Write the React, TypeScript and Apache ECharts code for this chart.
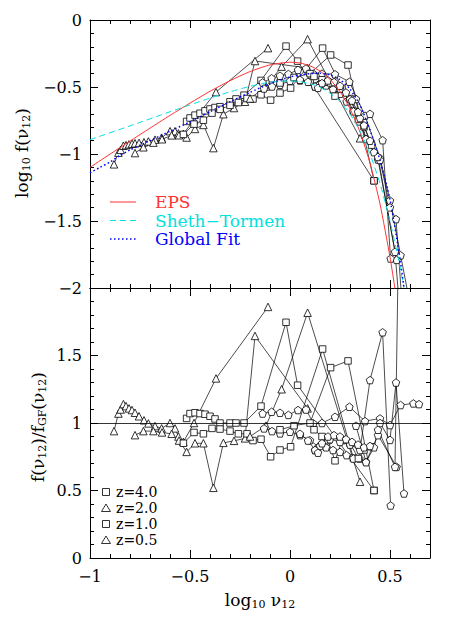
import React, { useEffect, useRef } from 'react';
import * as echarts from 'echarts';

// ---- fit curves (log10 f vs log10 nu12) ----
const EPS_X = [-1, -0.9, -0.8, -0.7, -0.6, -0.5, -0.4, -0.3, -0.2, -0.1, 0, 0.05, 0.1, 0.15, 0.2, 0.25, 0.3, 0.35, 0.4, 0.45, 0.5, 0.52, 0.53];
const EPS_Y = [-1.1, -1.001, -0.904, -0.807, -0.712, -0.62, -0.532, -0.453, -0.385, -0.335, -0.315, -0.321, -0.342, -0.381, -0.443, -0.534, -0.662, -0.836, -1.068, -1.372, -1.769, -1.958, -2.06];
const ST_X = [-1, -0.8, -0.6, -0.4, -0.3, -0.2, -0.1, 0, 0.05, 0.1, 0.15, 0.2, 0.25, 0.3, 0.35, 0.4, 0.45, 0.5, 0.55, 0.57];
const ST_Y = [-0.893, -0.79, -0.685, -0.583, -0.536, -0.495, -0.465, -0.454, -0.46, -0.475, -0.502, -0.546, -0.609, -0.7, -0.83, -1.0, -1.22, -1.5, -1.84, -2.0];
const GF_X = [-1, -0.95, -0.9, -0.85, -0.8, -0.7, -0.6, -0.5, -0.4, -0.3, -0.2, -0.1, 0, 0.05, 0.1, 0.15, 0.2, 0.25, 0.3, 0.35, 0.4, 0.45, 0.5, 0.55, 0.57];
const GF_Y = [-1.14, -1.1, -1.06, -1.01, -0.97, -0.9, -0.83, -0.76, -0.685, -0.61, -0.54, -0.475, -0.425, -0.41, -0.4, -0.398, -0.41, -0.445, -0.515, -0.635, -0.82, -1.045, -1.34, -1.78, -2.0];

// ---- simulation tracks: x = log10 nu12, top = log10 f, ratio = f / f_GF ----
const A_X = [-0.88, -0.858, -0.847, -0.833, -0.82, -0.805, -0.79, -0.775, -0.755, -0.73, -0.708, -0.675, -0.642, -0.6, -0.575, -0.558, -0.533, -0.48, -0.37, -0.11];
const A_TOP = [-1.077, -0.99, -0.969, -0.938, -0.934, -0.928, -0.923, -0.92, -0.917, -0.912, -0.906, -0.893, -0.878, -0.83, -0.83, -0.846, -0.849, -0.745, -0.538, -0.21];
const A_RATIO = [0.94, 1.07, 1.1, 1.14, 1.125, 1.108, 1.096, 1.076, 1.05, 1.02, 0.997, 0.977, 0.96, 1.0, 0.96, 0.9, 0.86, 1.0, 1.33, 1.86];

const B_X = [-0.775, -0.733, -0.683, -0.64, -0.592, -0.555, -0.517, -0.475, -0.433, -0.383, -0.333, -0.28, -0.225, -0.175, 0.088];
const B_TOP = [-0.993, -0.95, -0.915, -0.89, -0.861, -0.86, -0.877, -0.813, -0.783, -0.956, -0.703, -0.657, -0.61, -0.306, -0.358];
const B_RATIO = [0.91, 0.94, 0.94, 0.93, 0.92, 0.87, 0.786, 0.85, 0.85, 0.52, 0.853, 0.868, 0.886, 1.645, 1.108];

const C_X = [-0.517, -0.5, -0.475, -0.45, -0.425, -0.4, -0.375, -0.35, -0.3, -0.27, -0.23, -0.145, -0.02, 0.038, 0.42];
const C_TOP = [-0.757, -0.731, -0.71, -0.696, -0.678, -0.664, -0.653, -0.647, -0.61, -0.589, -0.561, -0.451, -0.195, -0.307, -1.2];
const C_RATIO = [1.034, 1.07, 1.076, 1.07, 1.065, 1.05, 1.03, 1.0, 1.0, 1.0, 1.0, 1.125, 1.746, 1.28, 0.5];

const D_X = [-0.533, -0.48, -0.433, -0.39, -0.35, -0.3, -0.258, -0.215, -0.185, -0.145, -0.097, -0.05, 0.003, 0.163, 0.317];
const D_TOP = [-0.854, -0.777, -0.748, -0.695, -0.667, -0.637, -0.616, -0.586, -0.59, -0.558, -0.598, -0.545, -0.508, -0.21, -0.681];
const D_RATIO = [0.85, 0.93, 0.92, 0.96, 0.955, 0.94, 0.92, 0.92, 0.87, 0.88, 0.75, 0.8, 0.824, 1.548, 0.74];

const E_X = [-0.2, -0.12, -0.042, 0.088, 0.35];
const E_TOP = [-0.586, -0.496, -0.348, -0.143, -0.883];
const E_RATIO = [0.9, 0.98, 1.25, 1.817, 0.565];

const F_X = [-0.137, -0.092, -0.05, -0.008, 0.04, 0.08, 0.117, 0.16, 0.225, 0.297, 0.375, 0.45, 0.5, 0.553, 0.617, 0.645];
const F_TOP = [-0.466, -0.435, -0.416, -0.403, -0.372, -0.362, -0.401, -0.4, -0.405, -0.461, -0.714, -1.03, -1.347, -1.756, -2.25, -2.4];
const F_RATIO = [1.07, 1.083, 1.076, 1.06, 1.096, 1.1, 0.997, 1.0, 1.046, 1.12, 1.014, 1.034, 0.985, 1.133, 1.145, 1.14];

const G_X = [-0.13, -0.09, -0.05, 0.0, 0.05, 0.1, 0.142, 0.18, 0.215, 0.25, 0.283, 0.317, 0.347, 0.38, 0.44, 0.533];
const G_TOP = [-0.511, -0.496, -0.483, -0.454, -0.451, -0.459, -0.482, -0.488, -0.517, -0.55, -0.608, -0.682, -0.757, -0.888, -1.041, -1.79];
const G_RATIO = [0.96, 0.94, 0.923, 0.935, 0.91, 0.873, 0.824, 0.82, 0.8, 0.786, 0.762, 0.737, 0.737, 0.712, 0.91, 0.675];

const H_X = [-0.05, 0.02, 0.1, 0.203, 0.29, 0.42];
const H_TOP = [-0.47, -0.429, -0.4, -0.261, -0.336, -1.2];
const H_RATIO = [0.95, 0.98, 1.0, 1.41, 1.46, 0.5];

const I_X = [0.12, 0.16, 0.19, 0.225, 0.26, 0.3, 0.342, 0.37, 0.408];
const I_TOP = [-0.421, -0.446, -0.465, -0.568, -0.515, -0.586, -0.742, -0.797, -0.934];
const I_RATIO = [0.95, 0.9, 0.87, 0.72, 0.87, 0.85, 0.737, 0.8, 0.824];

const J_X = [0.125, 0.15, 0.2, 0.25, 0.3, 0.35, 0.4, 0.463, 0.503];
const J_TOP = [-0.496, -0.479, -0.466, -0.511, -0.591, -0.732, -0.7, -0.897, -1.78];
const J_RATIO = [0.8, 0.83, 0.88, 0.86, 0.84, 0.8, 1.318, 1.672, 0.389];

const K_X = [0.33, 0.38, 0.42, 0.45, 0.5, 0.53, 0.57];
const K_TOP = [-0.589, -0.888, -0.986, -1.045, -1.398, -1.486, -2.32];
const K_RATIO = [0.98, 0.71, 0.82, 1.0, 0.875, 1.3, 0.478];

const L_X = [0.44, 0.525, 0.545];
const L_TOP = [-1.022, -1.73, -2.1];
const L_RATIO = [0.95, 0.675, 2.6];

const M_X = [0.05, 0.09, 0.125, 0.14, 0.16, 0.19, 0.22, 0.25, 0.28, 0.31, 0.34, 0.37, 0.4];
const M_TOP = [-0.446, -0.461, -0.496, -0.506, -0.471, -0.451, -0.463, -0.491, -0.541, -0.601, -0.686, -0.786, -0.901];
const M_RATIO = [0.92, 0.87, 0.8, 0.78, 0.85, 0.9, 0.91, 0.9, 0.88, 0.86, 0.84, 0.82, 0.83];

const PENT = 'path://M0,-10L9.51,-3.09L5.88,8.09L-5.88,8.09L-9.51,-3.09Z';
const SQ = 'rect';
const TRI = 'triangle';

const TRACKS = [
  { x: A_X, top: A_TOP, ratio: A_RATIO, sym: TRI },
  { x: B_X, top: B_TOP, ratio: B_RATIO, sym: TRI },
  { x: C_X, top: C_TOP, ratio: C_RATIO, sym: SQ },
  { x: D_X, top: D_TOP, ratio: D_RATIO, sym: SQ },
  { x: E_X, top: E_TOP, ratio: E_RATIO, sym: TRI },
  { x: F_X, top: F_TOP, ratio: F_RATIO, sym: PENT },
  { x: G_X, top: G_TOP, ratio: G_RATIO, sym: PENT },
  { x: H_X, top: H_TOP, ratio: H_RATIO, sym: SQ },
  { x: I_X, top: I_TOP, ratio: I_RATIO, sym: SQ },
  { x: J_X, top: J_TOP, ratio: J_RATIO, sym: PENT },
  { x: K_X, top: K_TOP, ratio: K_RATIO, sym: PENT },
  { x: L_X, top: L_TOP, ratio: L_RATIO, sym: PENT },
  { x: M_X, top: M_TOP, ratio: M_RATIO, sym: PENT },
];

const FONT = 'DejaVu Serif';
const MINUS = '\u2212';

function fmt(v: number): string {
  const s = String(+v.toFixed(2));
  return s.replace('-', MINUS);
}

function xMajor(gridIndex: number, position: string, labels: boolean) {
  return {
    type: 'value', gridIndex, position, min: -1, max: 0.7, interval: 0.5,
    axisLine: { show: true, onZero: false, lineStyle: { color: '#000', width: 1 } },
    axisTick: { show: true, inside: true, length: 8, lineStyle: { color: '#000', width: 1 } },
    axisLabel: {
      show: labels, margin: 10, color: '#000', fontFamily: FONT, fontSize: 16,
      formatter: (v: number) => (Math.abs(v - 0.7) < 1e-6 ? '' : fmt(v)),
    },
    splitLine: { show: false },
  };
}
function xMinor(gridIndex: number, position: string) {
  return {
    type: 'value', gridIndex, position, min: -1, max: 0.7, interval: 0.1,
    axisLine: { show: false, onZero: false },
    axisTick: { show: true, inside: true, length: 4, lineStyle: { color: '#000', width: 1 } },
    axisLabel: { show: false },
    splitLine: { show: false },
  };
}
function yAxisDef(gridIndex: number, position: string, min: number, max: number, labels: boolean, hideTop: boolean) {
  return {
    type: 'value', gridIndex, position, min, max, interval: 0.5,
    axisLine: { show: true, onZero: false, lineStyle: { color: '#000', width: 1 } },
    axisTick: { show: true, inside: true, length: 8, lineStyle: { color: '#000', width: 1 } },
    minorTick: { show: true, splitNumber: 5, length: 4, lineStyle: { color: '#000', width: 1 } },
    axisLabel: {
      show: labels, margin: 8, color: '#000', fontFamily: FONT, fontSize: 16,
      formatter: (v: number) => (hideTop && Math.abs(v - max) < 1e-6 ? '' : fmt(v)),
    },
    splitLine: { show: false },
  };
}

export default function App() {
  const ref = useRef<HTMLDivElement>(null);
  useEffect(() => {
    if (!ref.current) return;
    const chart = echarts.init(ref.current, undefined, { renderer: 'svg' });

    const series: any[] = [];
    TRACKS.forEach((t, k) => {
      const common = {
        type: 'line', symbol: t.sym, symbolSize: t.sym === SQ ? 6.5 : 7.5, showAllSymbol: true,
        lineStyle: { color: '#000', width: 0.7 },
        itemStyle: { color: '#fff', borderColor: '#000', borderWidth: 0.8 },
        clip: true, silent: true, z: 2,
      };
      series.push({ ...common, name: 'top' + k, xAxisIndex: 0, yAxisIndex: 0, data: t.x.map((x, i) => [x, t.top[i]]) });
      const bottom: any = { ...common, name: 'ratio' + k, xAxisIndex: 4, yAxisIndex: 2, data: t.x.map((x, i) => [x, t.ratio[i]]) };
      if (k === 0) {
        bottom.markLine = {
          silent: true, symbol: 'none', label: { show: false },
          lineStyle: { color: '#000', width: 0.8, type: 'solid' },
          data: [{ yAxis: 1 }],
        };
      }
      series.push(bottom);
    });
    series.push({
      type: 'line', name: 'EPS', xAxisIndex: 0, yAxisIndex: 0, symbol: 'none', smooth: 0.2, clip: true, z: 3,
      lineStyle: { color: '#ff3333', width: 1 }, data: EPS_X.map((x, i) => [x, EPS_Y[i]]),
    });
    series.push({
      type: 'line', name: 'Sheth-Tormen', xAxisIndex: 0, yAxisIndex: 0, symbol: 'none', smooth: 0.2, clip: true, z: 3,
      lineStyle: { color: '#00e0e0', width: 1, type: [6, 4] }, data: ST_X.map((x, i) => [x, ST_Y[i]]),
    });
    series.push({
      type: 'line', name: 'Global Fit', xAxisIndex: 0, yAxisIndex: 0, symbol: 'none', smooth: 0.2, clip: true, z: 3,
      lineStyle: { color: '#0000ff', width: 1.5, type: [1.5, 2.5] }, data: GF_X.map((x, i) => [x, GF_Y[i]]),
    });

    const legendTop = [
      { label: 'EPS', color: '#ff3333', dash: null as any, w: 1 },
      { label: 'Sheth' + MINUS + 'Tormen', color: '#00e0e0', dash: [6, 4], w: 1 },
      { label: 'Global Fit', color: '#0000ff', dash: [1.5, 2.5], w: 1.5 },
    ];
    const graphics: any[] = [];
    legendTop.forEach((l, i) => {
      const y = 194 + i * 18.5;
      graphics.push({ type: 'line', shape: { x1: 102, y1: y, x2: 128, y2: y }, style: { stroke: l.color, lineWidth: l.w, lineDash: l.dash || undefined } });
      graphics.push({ type: 'text', x: 147, y, style: { text: l.label, fill: l.color, font: `17px "${FONT}"`, align: 'left', verticalAlign: 'middle' } });
    });
    const legendZ = ['z=4.0', 'z=2.0', 'z=1.0', 'z=0.5'];
    legendZ.forEach((lab, i) => {
      const y = 484 + i * 16;
      if (i % 2 === 0) {
        graphics.push({ type: 'rect', shape: { x: 94.5, y: y - 3.5, width: 7, height: 7 }, style: { fill: 'none', stroke: '#000', lineWidth: 0.8 } });
      } else {
        graphics.push({ type: 'polygon', shape: { points: [[98, y - 4], [102.5, y + 3.5], [93.5, y + 3.5]] }, style: { fill: 'none', stroke: '#000', lineWidth: 0.8 } });
      }
      graphics.push({ type: 'text', x: 108, y, style: { text: lab, fill: '#000', font: `14px "${FONT}"`, align: 'left', verticalAlign: 'middle' } });
    });
    const rich = {
      a: { fontFamily: FONT, fontSize: 17, fill: '#000', color: '#000' },
      s: { fontFamily: FONT, fontSize: 11, fill: '#000', color: '#000', padding: [9, 0, 0, 0] },
    };
    graphics.push({
      type: 'text', x: 14, y: 145, rotation: Math.PI / 2,
      style: { text: '{a|log}{s|10}{a| f(ν}{s|12}{a|)}', rich, align: 'center', verticalAlign: 'middle' },
    });
    graphics.push({
      type: 'text', x: 30, y: 419, rotation: Math.PI / 2,
      style: { text: '{a|f(ν}{s|12}{a|)/f}{s|GF}{a|(ν}{s|12}{a|)}', rich, align: 'center', verticalAlign: 'middle' },
    });
    graphics.push({
      type: 'text', x: 252, y: 592,
      style: { text: '{a|log}{s|10}{a| ν}{s|12}', rich, align: 'center', verticalAlign: 'middle' },
    });

    chart.setOption({
      animation: false,
      backgroundColor: '#fff',
      grid: [
        { left: 82, top: 12, width: 340, height: 268 },
        { left: 82, top: 280, width: 340, height: 270 },
      ],
      xAxis: [
        xMajor(0, 'bottom', false), xMinor(0, 'bottom'), xMajor(0, 'top', false), xMinor(0, 'top'),
        xMajor(1, 'bottom', true), xMinor(1, 'bottom'), xMajor(1, 'top', false), xMinor(1, 'top'),
      ],
      yAxis: [
        yAxisDef(0, 'left', -2, 0, true, false), yAxisDef(0, 'right', -2, 0, false, false),
        yAxisDef(1, 'left', 0, 2, true, true), yAxisDef(1, 'right', 0, 2, false, true),
      ],
      series,
      graphic: graphics,
    });
    return () => chart.dispose();
  }, []);
  return <div ref={ref} style={{ width: 447, height: 609 }} />;
}
